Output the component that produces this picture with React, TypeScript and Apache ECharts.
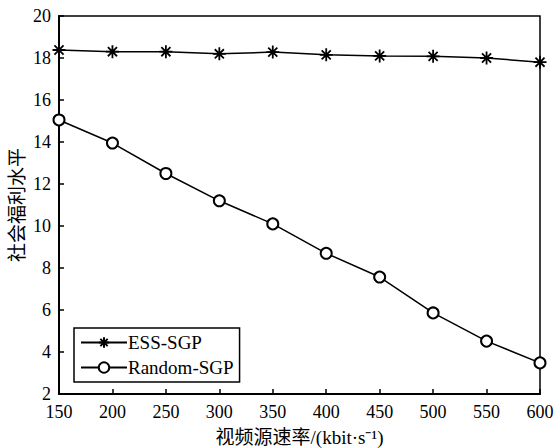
import React, { useEffect, useRef } from "react";
import * as echarts from "echarts";

const xValues = [150, 200, 250, 300, 350, 400, 450, 500, 550, 600];
const essSgp = [18.38, 18.3, 18.3, 18.2, 18.28, 18.15, 18.1, 18.08, 18.0, 17.8];
const randomSgp = [15.05, 13.95, 12.5, 11.2, 10.1, 8.7, 7.57, 5.86, 4.52, 3.48];
const seriesNames = ["ESS-SGP", "Random-SGP"];
const xAxisName = "视频源速率/(kbit·s⁻¹)";
const yAxisName = "社会福利水平";

const FONT = "'Liberation Serif', 'Noto Sans CJK SC', serif";
const STAR = "path://M0,-10 L0,10 M-10,0 L10,0 M-7,-7 L7,7 M-7,7 L7,-7";

export default function App() {
  const ref = useRef<HTMLDivElement>(null);
  useEffect(() => {
    if (!ref.current) return;
    const chart = echarts.init(ref.current, null, { renderer: "svg" });
    chart.setOption({
      animation: false,
      backgroundColor: "#ffffff",
      textStyle: { fontFamily: FONT, color: "#000" },
      grid: {
        left: 59,
        right: 15,
        top: 16,
        bottom: 54,
        containLabel: false,
        outerBoundsMode: "none",
        show: true,
        borderColor: "#000",
        borderWidth: 1.5,
        backgroundColor: "transparent",
      },
      legend: {
        left: 74,
        top: 328,
        orient: "vertical",
        data: seriesNames,
        itemWidth: 46,
        itemHeight: 13,
        itemGap: 6,
        padding: [5, 6, 5, 6],
        borderColor: "#000",
        borderWidth: 1.5,
        backgroundColor: "#fff",
        textStyle: { fontFamily: FONT, fontSize: 19, color: "#000", padding: [0, 0, 0, -4] },
      },
      xAxis: {
        type: "value",
        min: 150,
        max: 600,
        interval: 50,
        name: xAxisName,
        nameLocation: "middle",
        nameGap: 34,
        nameMoveOverlap: false,
        nameTextStyle: { fontFamily: FONT, fontSize: 19, color: "#000" },
        axisLine: { lineStyle: { color: "#000", width: 2 } },
        axisTick: { inside: true, length: 5, lineStyle: { color: "#000", width: 1.5 } },
        axisLabel: { fontFamily: FONT, fontSize: 18, color: "#000", margin: 9 },
        splitLine: { show: false },
      },
      yAxis: {
        type: "value",
        min: 2,
        max: 20,
        interval: 2,
        name: yAxisName,
        nameLocation: "middle",
        nameGap: 32,
        nameMoveOverlap: false,
        nameRotate: 90,
        nameTextStyle: { fontFamily: FONT, fontSize: 19, color: "#000" },
        axisLine: { lineStyle: { color: "#000", width: 2 } },
        axisTick: { inside: true, length: 5, lineStyle: { color: "#000", width: 1.5 } },
        axisLabel: { fontFamily: FONT, fontSize: 18, color: "#000", margin: 8 },
        splitLine: { show: false },
      },
      series: [
        {
          name: seriesNames[0],
          type: "line",
          data: xValues.map((x, i) => [x, essSgp[i]]),
          symbol: STAR,
          symbolSize: 13,
          lineStyle: { color: "#000", width: 1.5 },
          itemStyle: { color: "transparent", borderColor: "#000", borderWidth: 1.8 },
        },
        {
          name: seriesNames[1],
          type: "line",
          data: xValues.map((x, i) => [x, randomSgp[i]]),
          symbol: "emptyCircle",
          symbolSize: 11,
          lineStyle: { color: "#000", width: 1.5 },
          itemStyle: { color: "#000", borderColor: "#000", borderWidth: 1.5 },
        },
      ],
    });
    return () => chart.dispose();
  }, []);
  return <div ref={ref} style={{ width: 555, height: 448, position: "absolute", left: 0, top: 0 }} />;
}
